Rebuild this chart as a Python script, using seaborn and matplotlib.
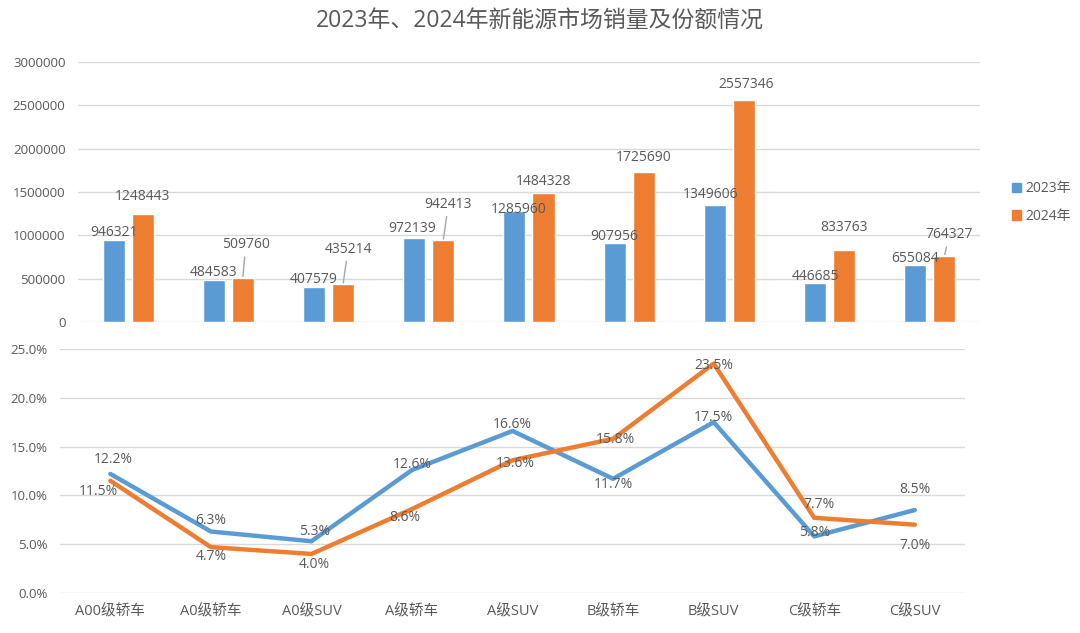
import numpy as np
import pandas as pd
import matplotlib
matplotlib.use("Agg")
import matplotlib.pyplot as plt
import seaborn as sns

categories = ['A00级轿车', 'A0级轿车', 'A0级SUV', 'A级轿车', 'A级SUV',
              'B级轿车', 'B级SUV', 'C级轿车', 'C级SUV']
years = ['2023年', '2024年']
sales_2023 = [946321, 484583, 407579, 972139, 1285960, 907956, 1349606, 446685, 655084]
sales_2024 = [1248443, 509760, 435214, 942413, 1484328, 1725690, 2557346, 833763, 764327]
share_2023 = [12.2, 6.3, 5.3, 12.6, 16.6, 11.7, 17.5, 5.8, 8.5]
share_2024 = [11.5, 4.7, 4.0, 8.6, 13.6, 15.8, 23.5, 7.7, 7.0]

blue = '#5B9BD5'
orange = '#ED7D31'
txt = '#595959'
grid = '#D9D9D9'

sns.set_theme(style='white')
plt.rcParams['font.family'] = ['Open Sans', 'Noto Sans CJK SC', 'DejaVu Sans']

sales = pd.DataFrame({
    'cat': categories * 2,
    'year': [years[0]] * 9 + [years[1]] * 9,
    'sales': sales_2023 + sales_2024,
})
share = pd.DataFrame({
    'cat': categories * 2,
    'year': [years[0]] * 9 + [years[1]] * 9,
    'share': share_2023 + share_2024,
})

fig = plt.figure(figsize=(10.8, 6.33), dpi=100)
ax1 = fig.add_axes([0.0722, 0.4913, 0.8352, 0.4107])
ax2 = fig.add_axes([0.0556, 0.0632, 0.838, 0.3855])

# ---- top: sales bars
sns.barplot(data=sales, x='cat', y='sales', hue='year', order=categories,
            palette=[blue, orange], width=0.58, gap=0.24, saturation=1,
            legend=False, ax=ax1)
ax1.set_ylim(0, 3000000)
ax1.set_xlim(-0.5, 8.5)
ax1.set_yticks(np.arange(0, 3000001, 500000))
ax1.set_yticklabels([str(v) for v in range(0, 3000001, 500000)])
ax1.set_xticks([])
ax1.set_xlabel('')
ax1.set_ylabel('')
ax1.grid(axis='y', color=grid, lw=1)
ax1.set_axisbelow(True)
for s in ax1.spines.values():
    s.set_visible(False)
ax1.tick_params(axis='y', colors=txt, labelsize=9.5, length=0, pad=9)

# label offsets in pixels (dx, dy) - orange ones with leader lines go higher
off23 = [(0, 8), (0, 8), (0, 7), (-2, 9), (4, 1), (0, 7), (-4, 11), (0, 7), (0, 7)]
off24 = [(0, 17), (3, 33), (5, 35), (5, 36), (0, 12), (0, 15), (2, 16), (0, 22), (5, 21)]
leader24 = [False, True, True, True, False, False, False, False, True]
bw = 0.145
for i in range(9):
    ax1.annotate(str(sales_2023[i]), (i - bw, sales_2023[i]), xytext=off23[i],
                 textcoords='offset pixels', ha='center', va='center',
                 fontsize=10, color=txt)
    ap = dict(arrowstyle='-', color='#A6A6A6', lw=1, shrinkA=1, shrinkB=1) if leader24[i] else None
    ax1.annotate(str(sales_2024[i]), (i + bw, sales_2024[i]), xytext=off24[i],
                 textcoords='offset pixels', ha='center', va='center',
                 fontsize=10, color=txt, arrowprops=ap)

# ---- bottom: share lines
sns.lineplot(data=share, x='cat', y='share', hue='year', palette=[blue, orange],
             lw=3.2, sort=False, legend=False, ax=ax2)
ax2.set_ylim(0, 25)
ax2.set_xlim(-0.5, 8.5)
ax2.set_yticks(np.arange(0, 26, 5))
ax2.set_yticklabels(['%.1f%%' % v for v in range(0, 26, 5)])
ax2.set_xlabel('')
ax2.set_ylabel('')
ax2.grid(axis='y', color=grid, lw=1)
ax2.set_axisbelow(True)
for s in ax2.spines.values():
    s.set_visible(False)
ax2.tick_params(axis='y', colors=txt, labelsize=9.5, length=0, pad=9)
ax2.tick_params(axis='x', colors=txt, labelsize=10.5, length=0, pad=8)

soff23 = [(3, 14), (0, 11), (3, 10), (0, 6), (0, 6), (0, -6), (0, 5), (0, 4), (0, 21)]
soff24 = [(-12, -11), (0, -9), (3, -11), (-7, -8), (3, -3), (2, -1), (0, -2), (5, 13), (0, -21)]
for i in range(9):
    ax2.annotate('%.1f%%' % share_2023[i], (i, share_2023[i]), xytext=soff23[i],
                 textcoords='offset pixels', ha='center', va='center',
                 fontsize=10, color=txt)
    ax2.annotate('%.1f%%' % share_2024[i], (i, share_2024[i]), xytext=soff24[i],
                 textcoords='offset pixels', ha='center', va='center',
                 fontsize=10, color=txt)

# legend
handles = [plt.Rectangle((0, 0), 1, 1, color=blue), plt.Rectangle((0, 0), 1, 1, color=orange)]
fig.legend(handles, years, loc='center left', bbox_to_anchor=(0.925, 0.68),
           frameon=False, fontsize=10, labelcolor=txt, handlelength=0.7,
           handleheight=0.7, handletextpad=0.3, labelspacing=0.9)

fig.text(0.5, 1 - 22 / 633, '2023年、2024年新能源市场销量及份额情况',
         ha='center', va='center', fontsize=16.5, color=txt)

plt.savefig('out.png', dpi=100)
